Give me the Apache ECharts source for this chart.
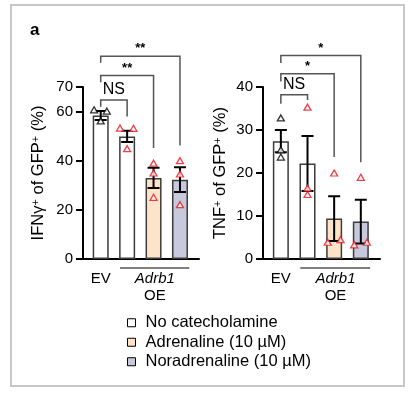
<!DOCTYPE html>
<html>
<head>
<meta charset="utf-8">
<style>
html, body { margin: 0; padding: 0; background: #fff; }
#chart { width: 419px; height: 396px; }
</style>
<script src="https://cdn.jsdelivr.net/npm/echarts@6/dist/echarts.min.js"></script>
</head>
<body>
<div id="chart"></div>
<script>
// bar positions: EV, then Adrb1 OE with three treatments
var barPos = [0, 1, 2, 3];
var treatments = ['No catecholamine', 'Adrenaline (10 µM)', 'Noradrenaline (10 µM)'];
var barTreatment = [0, 0, 1, 2];
var treatmentColors = ['#ffffff', '#fde4c9', '#c8c9dd'];

// IFNγ+ of GFP+ (%)
var ifnMean = [58.4, 49.9, 33.0, 32.3];
var ifnSem = [1.8, 2.3, 4.1, 5.0];
var ptCat = [0, 0, 0, 1, 1, 1, 2, 2, 2, 3, 3, 3];
var ifnPtJitter = [-0.25, 0.23, 0, -0.27, 0.24, 0, 0, 0, 0, 0, 0, 0];
var ifnPtVal = [60.7, 60.2, 56.2, 53.3, 53.2, 44.9, 39.0, 35.0, 25.1, 40.0, 34.6, 22.1];

// TNF+ of GFP+ (%)
var tnfMean = [27.4, 22.2, 9.4, 8.7];
var tnfSem = [2.6, 6.4, 5.2, 5.1];
var tnfPtJitter = [0, 0, 0, 0, 0, 0, 0, -0.24, 0.24, 0, -0.25, 0.23];
var tnfPtVal = [32.8, 25.4, 23.7, 35.3, 16.5, 15.0, 20.0, 3.9, 4.5, 19.0, 3.3, 3.9];

// significance brackets: [from, to, top, left leg end, right leg end]
var ifnBrackets = [[0, 1, 64.7, 62.0, 58.0], [0, 2, 74.7, 71.9, 45.2], [0, 3, 82.5, 79.9, 46.2]];
var ifnBracketText = ['NS', '**', '**'];
var tnfBrackets = [[0, 1, 38.2, 36.1, 37.0], [0, 2, 43.1, 41.3, 23.7], [0, 3, 47.3, 45.6, 22.5]];
var tnfBracketText = ['NS', '*', '*'];

// x labels
var evLabel = 'EV';
var groupLabel = ['Adrb1', 'OE'];
var groupSpan = [0.73, 3.35];
var groupCenter = 2.05;

var FONT = 'Liberation Sans, Arial, Helvetica, sans-serif';
var chart = echarts.init(document.getElementById('chart'));

function errRender(mean, sem) {
  return function (params, api) {
    var i = params.dataIndex;
    var x = barPos[i];
    var lo = api.coord([x, mean[i] - sem[i]]);
    var hi = api.coord([x, mean[i] + sem[i]]);
    var w = 6;
    return {
      type: 'polyline',
      shape: {
        points: [
          [lo[0] - w, lo[1]], [lo[0] + w, lo[1]], [lo[0], lo[1]],
          [hi[0], hi[1]], [hi[0] - w, hi[1]], [hi[0] + w, hi[1]]
        ]
      },
      style: { stroke: '#000', lineWidth: 2, fill: null }
    };
  };
}

function bracketRender(brackets, texts) {
  return function (params, api) {
    var br = brackets[params.dataIndex];
    var a = api.coord([br[0], br[3]]);
    var b = api.coord([br[0], br[2]]);
    var c = api.coord([br[1], br[2]]);
    var d = api.coord([br[1], br[4]]);
    var txt = texts[params.dataIndex];
    var star = txt !== 'NS';
    return {
      type: 'group',
      children: [
        { type: 'polyline', shape: { points: [a, b, c, d] }, style: { stroke: '#555', lineWidth: 1.5, fill: null } },
        {
          type: 'text', x: (b[0] + c[0]) / 2, y: b[1] - (star ? 1 : 2),
          style: {
            text: txt, align: 'center', verticalAlign: 'bottom', fill: '#000',
            font: star ? 'bold 13px ' + FONT : '16px ' + FONT
          }
        }
      ]
    };
  };
}

function renderXText(params, api) {
  var base = api.coord([0, 0]);
  var y0 = base[1];
  var gL = api.coord([groupSpan[0], 0])[0];
  var gR = api.coord([groupSpan[1], 0])[0];
  var gC = api.coord([groupCenter, 0])[0];
  return {
    type: 'group',
    children: [
      { type: 'text', x: base[0], y: y0 + 20, style: { text: evLabel, align: 'center', verticalAlign: 'middle', font: '15px ' + FONT, fill: '#000' } },
      { type: 'line', shape: { x1: gL, y1: y0 + 9, x2: gR, y2: y0 + 9 }, style: { stroke: '#000', lineWidth: 1.2 } },
      { type: 'text', x: gC, y: y0 + 20, style: { text: groupLabel[0], align: 'center', verticalAlign: 'middle', font: 'italic 15px ' + FONT, fill: '#000' } },
      { type: 'text', x: gC, y: y0 + 37, style: { text: groupLabel[1], align: 'center', verticalAlign: 'middle', font: '15px ' + FONT, fill: '#000' } }
    ]
  };
}

function panelSeries(gi, mean, sem, jitter, vals, brackets, btext) {
  var out = [];
  treatments.forEach(function (t, ti) {
    var d = [];
    barPos.forEach(function (p, i) {
      if (barTreatment[i] === ti) d.push([p, mean[i]]);
    });
    out.push({
      name: t, type: 'bar', xAxisIndex: gi, yAxisIndex: gi,
      barWidth: 16, barGap: '-100%',
      itemStyle: { color: treatmentColors[ti], borderColor: '#3c3c3c', borderWidth: 1.5 },
      data: d, z: 2
    });
  });
  out.push({
    type: 'custom', xAxisIndex: gi, yAxisIndex: gi, renderItem: errRender(mean, sem), z: 3, clip: false,
    data: barPos.map(function (p, i) { return [p, mean[i]]; })
  });
  out.push({
    type: 'scatter', xAxisIndex: gi, yAxisIndex: gi, symbol: 'triangle', symbolSize: [7, 6], z: 4,
    data: vals.map(function (v, i) {
      return {
        value: [ptCat[i] + jitter[i], v],
        itemStyle: { color: '#fff', borderColor: ptCat[i] === 0 ? '#000' : '#e8141c', borderWidth: 1.3 }
      };
    })
  });
  out.push({
    type: 'custom', xAxisIndex: gi, yAxisIndex: gi, renderItem: bracketRender(brackets, btext), z: 5, clip: false,
    data: brackets.map(function (b) { return [b[0], 0]; })
  });
  out.push({
    type: 'custom', xAxisIndex: gi, yAxisIndex: gi, renderItem: renderXText, z: 5, clip: false,
    data: [[0, 0]]
  });
  return out;
}

function xAx(gi) {
  return {
    gridIndex: gi, type: 'value', min: -0.67, max: 3.72,
    axisLine: { show: true, onZero: false, lineStyle: { color: '#000', width: 2 } },
    axisTick: { show: false }, axisLabel: { show: false }, splitLine: { show: false }
  };
}

function yAx(gi, max, interval, name, gap) {
  return {
    gridIndex: gi, type: 'value', min: 0, max: max, interval: interval,
    axisLine: { show: true, onZero: false, lineStyle: { color: '#000', width: 2 } },
    axisTick: { show: true, length: 7, lineStyle: { color: '#000', width: 2 } },
    axisLabel: { fontSize: 15, color: '#000', margin: 10, fontFamily: FONT },
    splitLine: { show: false },
    name: name, nameLocation: 'middle', nameRotate: 90, nameGap: gap,
    nameTextStyle: {
      fontSize: 16.5, color: '#000', fontFamily: FONT,
      rich: { s: { fontSize: 11, verticalAlign: 'top', fontFamily: FONT, color: '#000' } }
    }
  };
}

chart.setOption({
  animation: false,
  backgroundColor: '#fff',
  grid: [
    { left: 83, top: 87, width: 116, height: 172 },
    { left: 263, top: 87, width: 117, height: 172 }
  ],
  xAxis: [xAx(0), xAx(1)],
  yAxis: [
    yAx(0, 70, 20, 'IFNγ{s|+} of GFP{s|+} (%)', 36),
    yAx(1, 40, 10, 'TNF{s|+} of GFP{s|+} (%)', 34)
  ],
  legend: {
    orient: 'vertical', left: 122, top: 309, itemWidth: 8, itemHeight: 8, itemGap: 2,
    icon: 'rect', selectedMode: false, data: treatments,
    itemStyle: { borderColor: '#000', borderWidth: 1 },
    textStyle: { fontSize: 16.5, color: '#000', fontFamily: FONT, lineHeight: 17.5, padding: [0, 0, 0, 5] }
  },
  graphic: [
    { type: 'rect', shape: { x: 11, y: 5, width: 393, height: 381 }, style: { fill: 'none', stroke: '#c8c8c8', lineWidth: 2 }, silent: true },
    { type: 'text', x: 30, y: 30, style: { text: 'a', font: 'bold 17px ' + FONT, fill: '#000', verticalAlign: 'middle' } }
  ],
  series: panelSeries(0, ifnMean, ifnSem, ifnPtJitter, ifnPtVal, ifnBrackets, ifnBracketText)
    .concat(panelSeries(1, tnfMean, tnfSem, tnfPtJitter, tnfPtVal, tnfBrackets, tnfBracketText))
});
</script>
</body>
</html>
